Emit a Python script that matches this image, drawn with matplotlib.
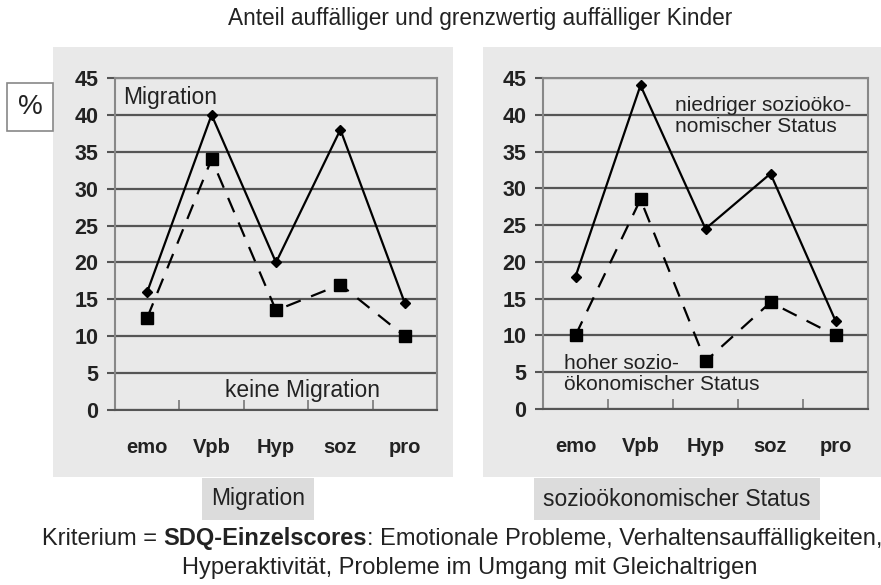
import matplotlib.pyplot as plt
import matplotlib.patches as mpatches

plt.rcParams['font.family'] = ['Liberation Sans', 'DejaVu Sans']

categories = ["emo", "Vpb", "Hyp", "soz", "pro"]

# left panel: Migration
migration = [16, 40, 20, 38, 14.5]
keine_migration = [12.5, 34, 13.5, 17, 10]

# right panel: socio-economic status
niedriger_ses = [18, 44, 24.5, 32, 12]
hoher_ses = [10, 28.5, 6.5, 14.5, 10]

y_ticks = list(range(0, 50, 5))

W, H = 881, 585
fig = plt.figure(figsize=(W / 100, H / 100), dpi=100)
fig.patch.set_facecolor("white")

PANEL = "#e9e9e9"
GRID = "#555555"
TXT = "#222222"


def px_rect(x0, y0, x1, y1):
    # pixel box (top-left origin) -> figure fraction [l, b, w, h]
    return [x0 / W, 1 - y1 / H, (x1 - x0) / W, (y1 - y0) / H]


def add_panel(x0, y0, x1, y1, **kw):
    l, b, w, h = px_rect(x0, y0, x1, y1)
    fig.patches.append(mpatches.Rectangle((l, b), w, h, transform=fig.transFigure,
                                          zorder=-5, **kw))


add_panel(53, 47, 453, 477, facecolor=PANEL, edgecolor="none")
add_panel(483, 47, 881, 477, facecolor=PANEL, edgecolor="none")


def draw(ax, solid, dashed):
    x = range(len(categories))
    ax.set_facecolor(PANEL)
    ax.set_xlim(-0.5, len(categories) - 0.5)
    ax.set_ylim(0, 45)
    ax.set_yticks(y_ticks)
    ax.set_yticklabels([str(v) for v in y_ticks], fontsize=15.5, fontweight="bold",
                       color=TXT)
    ax.set_xticks([i - 0.5 for i in range(len(categories) + 1)])
    ax.set_xticklabels([])
    ax.set_xticks(list(x), minor=True)
    ax.set_xticklabels(categories, minor=True, fontsize=14.5, fontweight="bold",
                       color=TXT)
    ax.tick_params(axis="x", which="minor", length=0, pad=20)
    ax.tick_params(axis="x", which="major", length=7, direction="in", color="#777777", width=1.2)
    ax.tick_params(axis="y", length=6, direction="out", color=GRID, width=1.5, pad=6)
    ax.yaxis.grid(True, color=GRID, linewidth=1.6)
    ax.set_axisbelow(True)
    for s in ax.spines.values():
        s.set_color("#888888")
        s.set_linewidth(1.5)
    ax.spines["bottom"].set_color(GRID)
    ax.plot(list(x), solid, color="black", linewidth=1.6, marker="D", markersize=5.5,
            zorder=3)
    ax.plot(list(x), dashed, color="black", linewidth=1.6, linestyle=(0, (7, 5)),
            marker="s", markersize=8, zorder=3)


ax1 = fig.add_axes(px_rect(115, 78, 437, 410))
draw(ax1, migration, keine_migration)
ax1.text(0.025, 0.94, "Migration", transform=ax1.transAxes, fontsize=16.5,
         va="center", color=TXT)
ax1.text(0.582, 0.06, "keine Migration", transform=ax1.transAxes, fontsize=16.5,
         va="center", ha="center", color=TXT)

ax2 = fig.add_axes(px_rect(543, 78, 868, 409))
draw(ax2, niedriger_ses, hoher_ses)
ax2.text(0.405, 0.885, "niedriger sozioöko-\nnomischer Status", transform=ax2.transAxes,
         fontsize=15, va="center", linespacing=1.15, color=TXT)
ax2.text(0.065, 0.105, "hoher sozio-\nökonomischer Status", transform=ax2.transAxes,
         fontsize=15, va="center", linespacing=1.15, color=TXT)

# "%" box
fig.text(30 / W, 1 - 107 / H, "%", fontsize=20, ha="center", va="center",
         color=TXT,
         bbox=dict(boxstyle="square,pad=0.4", facecolor="white", edgecolor="#888888",
                   linewidth=1.2))

fig.text(480 / W, 1 - 18 / H, "Anteil auffälliger und grenzwertig auffälliger Kinder",
         fontsize=16.3, ha="center", va="center", color=TXT)

fig.text(258 / W, 1 - 499 / H, "Migration", fontsize=16.5, ha="center", va="center",
         color=TXT,
         bbox=dict(boxstyle="square,pad=0.4", facecolor="#dcdcdc", edgecolor="none"))
fig.text(677 / W, 1 - 499 / H, "sozioökonomischer Status", fontsize=16.5, ha="center",
         va="center", color=TXT,
         bbox=dict(boxstyle="square,pad=0.4", facecolor="#dcdcdc", edgecolor="none"))

# footer with a bold part
y1 = 1 - 539 / H
t1 = fig.text(42 / W, y1, "Kriterium = ", fontsize=17, va="center", color=TXT)
fig.canvas.draw()
r = fig.canvas.get_renderer()
bb = t1.get_window_extent(r)
t2 = fig.text(bb.x1 / W, y1, "SDQ-Einzelscores", fontsize=17, va="center",
              fontweight="bold", color=TXT)
bb = t2.get_window_extent(r)
fig.text(bb.x1 / W, y1,
         ": Emotionale Probleme, Verhaltensauffälligkeiten,", fontsize=17,
         va="center", color=TXT)
fig.text(470 / W, 1 - 568 / H, "Hyperaktivität, Probleme im Umgang mit Gleichaltrigen",
         fontsize=17, ha="center", va="center", color=TXT)

fig.savefig("out.png", dpi=100)
